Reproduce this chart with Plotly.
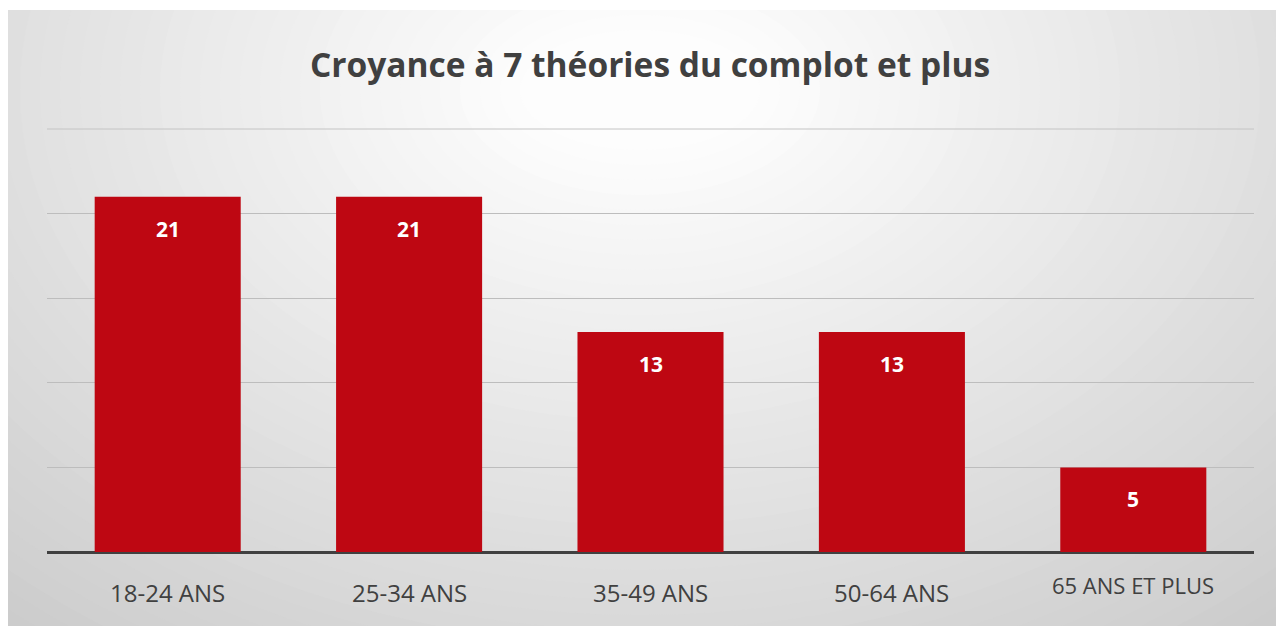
import plotly.graph_objects as go

categories = ["18-24 ANS", "25-34 ANS", "35-49 ANS", "50-64 ANS", "65 ANS ET PLUS"]
values = [21, 21, 13, 13, 5]
label_yshift = [0, 0, 0, 0, 7]
label_size = [24, 24, 24, 24, 22]
title = "Croyance à 7 théories du complot et plus"

# page body has an 8px margin, so the figure sits at (8, 8)
W, H = 1276, 618
ml, mr, mt, mb = 39, 30, 121, 74
pw, ph = W - ml - mr, H - mt - mb

fig = go.Figure()
fig.add_trace(go.Bar(
    x=categories, y=values, width=0.605,
    marker=dict(color="#be0712", line=dict(width=0)),
    hoverinfo="x+y",
))

shapes = []
shapes.append(dict(type="rect", xref="paper", yref="paper",
                   x0=-ml / pw, x1=(W - ml) / pw, y0=-mb / ph, y1=(H - mb - 2) / ph,
                   fillcolor="#c9c9c9", line=dict(width=0), layer="below"))
cx = (632 - ml) / pw
cy = (H - mb - 82) / ph
steps = 45
for i in range(steps):
    t = i / (steps - 1)
    rx = 1000 * (1 - t) + 120 * t
    ry = 720 * (1 - t) + 60 * t
    c = int(round(0xcb + (0xfd - 0xcb) * t))
    col = "#%02x%02x%02x" % (c, c, c)
    shapes.append(dict(type="circle", xref="paper", yref="paper",
                       xsizemode="pixel", ysizemode="pixel",
                       xanchor=cx, yanchor=cy,
                       x0=-rx, x1=rx, y0=-ry, y1=ry,
                       fillcolor=col, line=dict(width=0), layer="below"))
shapes.append(dict(type="rect", xref="paper", yref="paper",
                   x0=-ml / pw - 0.1, x1=(W - ml) / pw + 0.1,
                   y0=(H - mb - 2) / ph, y1=(H - mb) / ph + 0.2,
                   fillcolor="white", line=dict(width=0), layer="below"))
# top gridline at the end of the value range
shapes.append(dict(type="line", xref="paper", yref="paper", x0=0, x1=1, y0=1, y1=1,
                   line=dict(color="#c4c4c4", width=1), layer="below"))

annotations = []
for c, v in zip(categories, values):
    annotations.append(dict(x=c, y=v, xref="x", yref="y", text="<b>%d</b>" % v,
                            showarrow=False, yanchor="middle", yshift=-32,
                            font=dict(family="Open Sans", size=21, color="white")))
for c, s, fs in zip(categories, label_yshift, label_size):
    annotations.append(dict(x=c, y=0, xref="x", yref="y", text=c,
                            showarrow=False, yanchor="middle", yshift=-40 + s,
                            font=dict(family="Open Sans", size=fs, color="#404040")))

fig.update_layout(
    width=W, height=H,
    margin=dict(l=ml, r=mr, t=mt, b=mb, pad=0),
    paper_bgcolor="white", plot_bgcolor="rgba(0,0,0,0)",
    title=dict(text="<b>%s</b>" % title, x=(642 / W), xanchor="center",
               y=1 - 57 / H, yanchor="middle",
               font=dict(family="Open Sans", size=33.5, color="#404040")),
    showlegend=False,
    bargap=0.4,
    shapes=shapes,
    annotations=annotations,
    xaxis=dict(showticklabels=False, showgrid=False, zeroline=False, ticks="",
               showline=False),
    yaxis=dict(range=[0, 25], dtick=5, showticklabels=False, showgrid=True,
               gridcolor="#bdbdbd", gridwidth=1, zeroline=True,
               zerolinecolor="#404040", zerolinewidth=3, ticks=""),
)

fig.write_html("out.html")
